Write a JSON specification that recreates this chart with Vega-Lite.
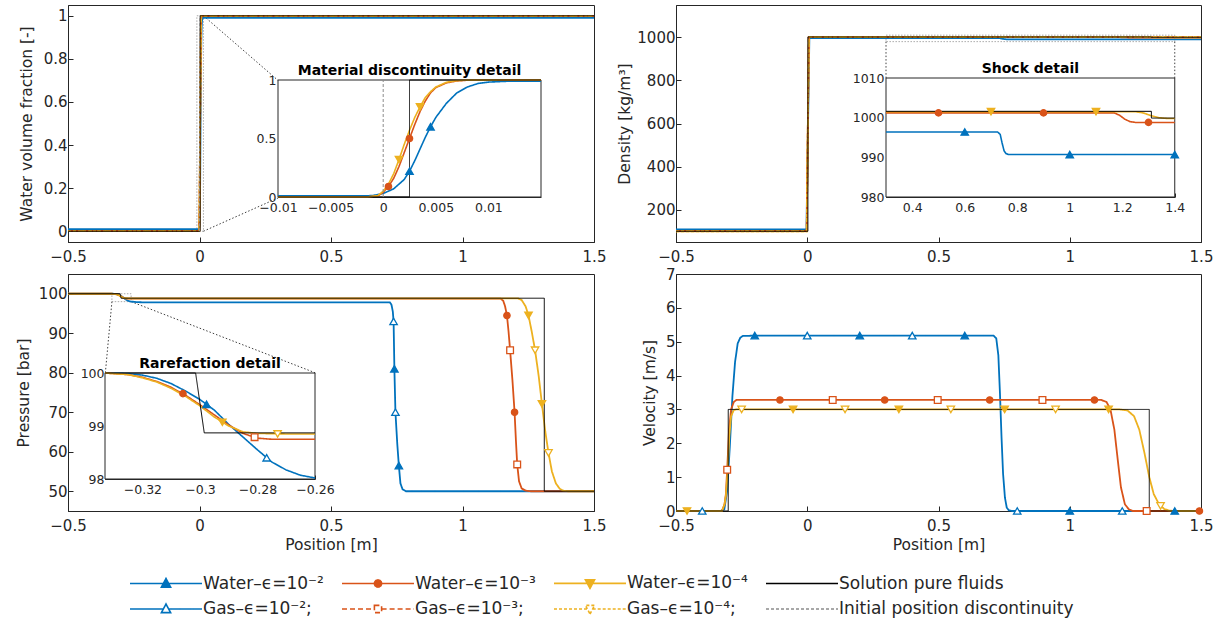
{
"$schema": "https://vega.github.io/schema/vega-lite/v6.json",
"padding": {"left": 15, "top": 4, "right": 5, "bottom": 0},
"autosize": {"type": "pad"},
"config": {
  "font": "DejaVu Sans",
  "view": {"stroke": "#262626", "strokeWidth": 1},
  "axis": {"grid": false, "labelFlush": false, "labelOverlap": false, "domainColor": "#262626", "tickColor": "#262626", "labelColor": "#262626", "titleColor": "#262626", "labelFontSize": 15, "titleFontSize": 15.5, "titleFontWeight": "normal", "tickSize": -5, "labelPadding": 6},
  "axisX": {"labelPadding": 12}
},
"datasets": {
  "p1": [
    {"s":"W2","x":-0.5,"y":0.01},{"s":"W2","x":-0.01,"y":0.01},{"s":"W2","x":-0.002,"y":0.01},{"s":"W2","x":-0.001,"y":0.012},{"s":"W2","x":0,"y":0.03},{"s":"W2","x":0.001,"y":0.07},{"s":"W2","x":0.002,"y":0.15},{"s":"W2","x":0.0025,"y":0.22},{"s":"W2","x":0.003,"y":0.31},{"s":"W2","x":0.0035,"y":0.41},{"s":"W2","x":0.004,"y":0.51},{"s":"W2","x":0.0045,"y":0.6},{"s":"W2","x":0.005,"y":0.68},{"s":"W2","x":0.006,"y":0.8},{"s":"W2","x":0.007,"y":0.89},{"s":"W2","x":0.008,"y":0.94},{"s":"W2","x":0.009,"y":0.97},{"s":"W2","x":0.01,"y":0.982},{"s":"W2","x":0.012,"y":0.99},{"s":"W2","x":0.015,"y":0.99},{"s":"W2","x":1.5,"y":0.99},
    {"s":"W3","x":-0.5,"y":0.001},{"s":"W3","x":-0.01,"y":0.001},{"s":"W3","x":-0.0015,"y":0.001},{"s":"W3","x":-0.0005,"y":0.01},{"s":"W3","x":0,"y":0.04},{"s":"W3","x":0.0005,"y":0.09},{"s":"W3","x":0.001,"y":0.16},{"s":"W3","x":0.0015,"y":0.26},{"s":"W3","x":0.002,"y":0.38},{"s":"W3","x":0.0025,"y":0.5},{"s":"W3","x":0.003,"y":0.62},{"s":"W3","x":0.0035,"y":0.73},{"s":"W3","x":0.004,"y":0.82},{"s":"W3","x":0.0045,"y":0.89},{"s":"W3","x":0.005,"y":0.935},{"s":"W3","x":0.006,"y":0.975},{"s":"W3","x":0.007,"y":0.992},{"s":"W3","x":0.008,"y":0.998},{"s":"W3","x":0.015,"y":0.999},{"s":"W3","x":1.5,"y":0.999},
    {"s":"W4","x":-0.5,"y":0.0001},{"s":"W4","x":-0.01,"y":0.0001},{"s":"W4","x":-0.0015,"y":0.0001},{"s":"W4","x":-0.0005,"y":0.012},{"s":"W4","x":0,"y":0.05},{"s":"W4","x":0.0005,"y":0.11},{"s":"W4","x":0.001,"y":0.2},{"s":"W4","x":0.0015,"y":0.32},{"s":"W4","x":0.002,"y":0.45},{"s":"W4","x":0.0025,"y":0.57},{"s":"W4","x":0.003,"y":0.68},{"s":"W4","x":0.0035,"y":0.77},{"s":"W4","x":0.004,"y":0.85},{"s":"W4","x":0.0045,"y":0.9},{"s":"W4","x":0.005,"y":0.94},{"s":"W4","x":0.006,"y":0.98},{"s":"W4","x":0.007,"y":0.995},{"s":"W4","x":0.008,"y":0.999},{"s":"W4","x":0.015,"y":0.9999},{"s":"W4","x":1.5,"y":0.9999},
    {"s":"G3","x":-0.5,"y":0.001},{"s":"G3","x":-0.001,"y":0.001},{"s":"G3","x":0.006,"y":0.999},{"s":"G3","x":1.5,"y":0.999},
    {"s":"G4","x":-0.5,"y":0.0001},{"s":"G4","x":-0.001,"y":0.0001},{"s":"G4","x":0.006,"y":0.9999},{"s":"G4","x":1.5,"y":0.9999},
    {"s":"Sol","x":-0.5,"y":0},{"s":"Sol","x":-0.01,"y":0},{"s":"Sol","x":0.0025,"y":0},{"s":"Sol","x":0.0025,"y":1},{"s":"Sol","x":0.015,"y":1},{"s":"Sol","x":1.5,"y":1},
    {"s":"Init","x":0,"y":0},{"s":"Init","x":0,"y":1}
  ],
  "p1m": [
    {"s":"W2","x":0.0025,"y":0.22},{"s":"W2","x":0.0045,"y":0.6},
    {"s":"W3","x":0.0005,"y":0.09},{"s":"W3","x":0.0025,"y":0.5},
    {"s":"W4","x":0.0015,"y":0.32},{"s":"W4","x":0.0035,"y":0.77}
  ],
  "p2": [
    {"s":"W2","x":-0.5,"y":108},{"s":"W2","x":-0.003,"y":108},{"s":"W2","x":0.008,"y":996.4},{"s":"W2","x":0.3,"y":996.4},{"s":"W2","x":0.725,"y":996.4},{"s":"W2","x":0.735,"y":995.8},{"s":"W2","x":0.742,"y":993.7},{"s":"W2","x":0.75,"y":991.6},{"s":"W2","x":0.758,"y":990.9},{"s":"W2","x":0.768,"y":990.7},{"s":"W2","x":1.4,"y":990.7},{"s":"W2","x":1.5,"y":990.7},
    {"s":"W3","x":-0.5,"y":101},{"s":"W3","x":-0.002,"y":101},{"s":"W3","x":0.006,"y":1001.2},{"s":"W3","x":0.3,"y":1001.2},{"s":"W3","x":1.17,"y":1001.2},{"s":"W3","x":1.19,"y":1000.6},{"s":"W3","x":1.21,"y":999.6},{"s":"W3","x":1.23,"y":999.0},{"s":"W3","x":1.25,"y":998.8},{"s":"W3","x":1.4,"y":998.8},{"s":"W3","x":1.5,"y":998.8},
    {"s":"W4","x":-0.5,"y":100},{"s":"W4","x":-0.002,"y":100},{"s":"W4","x":0.006,"y":1001.5},{"s":"W4","x":0.3,"y":1001.5},{"s":"W4","x":1.25,"y":1001.5},{"s":"W4","x":1.28,"y":1001.2},{"s":"W4","x":1.31,"y":1000.5},{"s":"W4","x":1.34,"y":1000.0},{"s":"W4","x":1.37,"y":999.8},{"s":"W4","x":1.4,"y":999.8},{"s":"W4","x":1.5,"y":999.8},
    {"s":"G3","x":-0.5,"y":101},{"s":"G3","x":-0.002,"y":101},{"s":"G3","x":0.006,"y":1001.2},{"s":"G3","x":1.5,"y":1001.2},
    {"s":"G4","x":-0.5,"y":100},{"s":"G4","x":-0.002,"y":100},{"s":"G4","x":0.006,"y":1001.5},{"s":"G4","x":1.5,"y":1001.5},
    {"s":"Sol","x":-0.5,"y":100},{"s":"Sol","x":0.0025,"y":100},{"s":"Sol","x":0.0025,"y":1001.6},{"s":"Sol","x":0.3,"y":1001.6},{"s":"Sol","x":1.311,"y":1001.6},{"s":"Sol","x":1.311,"y":999.9},{"s":"Sol","x":1.4,"y":999.9},{"s":"Sol","x":1.5,"y":999.9}
  ],
  "p2m": [
    {"s":"W2","x":0.6,"y":996.4},{"s":"W2","x":1.0,"y":990.7},{"s":"W2","x":1.4,"y":990.7},
    {"s":"W3","x":0.5,"y":1001.2},{"s":"W3","x":0.9,"y":1001.2},{"s":"W3","x":1.3,"y":998.8},
    {"s":"W4","x":0.7,"y":1001.5},{"s":"W4","x":1.1,"y":1001.5}
  ],
  "p3": [
    {"s":"W2","x":-0.5,"y":100},{"s":"W2","x":-0.333,"y":100},{"s":"W2","x":-0.325,"y":99.99},{"s":"W2","x":-0.32,"y":99.96},{"s":"W2","x":-0.315,"y":99.9},{"s":"W2","x":-0.31,"y":99.8},{"s":"W2","x":-0.305,"y":99.66},{"s":"W2","x":-0.3,"y":99.5},{"s":"W2","x":-0.295,"y":99.3},{"s":"W2","x":-0.29,"y":99.03},{"s":"W2","x":-0.285,"y":98.79},{"s":"W2","x":-0.28,"y":98.55},{"s":"W2","x":-0.275,"y":98.32},{"s":"W2","x":-0.27,"y":98.17},{"s":"W2","x":-0.265,"y":98.07},{"s":"W2","x":-0.26,"y":98.02},{"s":"W2","x":-0.24,"y":97.88},{"s":"W2","x":-0.2,"y":97.8},{"s":"W2","x":0.724,"y":97.8},{"s":"W2","x":0.73,"y":97.2},{"s":"W2","x":0.735,"y":95.5},{"s":"W2","x":0.738,"y":93},{"s":"W2","x":0.741,"y":81},{"s":"W2","x":0.745,"y":70},{"s":"W2","x":0.752,"y":62},{"s":"W2","x":0.758,"y":56.5},{"s":"W2","x":0.764,"y":52},{"s":"W2","x":0.772,"y":50.5},{"s":"W2","x":0.785,"y":50},{"s":"W2","x":1.5,"y":50},
    {"s":"W3","x":-0.5,"y":100},{"s":"W3","x":-0.333,"y":100},{"s":"W3","x":-0.325,"y":99.97},{"s":"W3","x":-0.32,"y":99.92},{"s":"W3","x":-0.315,"y":99.84},{"s":"W3","x":-0.31,"y":99.73},{"s":"W3","x":-0.305,"y":99.58},{"s":"W3","x":-0.3,"y":99.4},{"s":"W3","x":-0.295,"y":99.21},{"s":"W3","x":-0.29,"y":99.02},{"s":"W3","x":-0.285,"y":98.86},{"s":"W3","x":-0.28,"y":98.77},{"s":"W3","x":-0.275,"y":98.75},{"s":"W3","x":-0.26,"y":98.75},{"s":"W3","x":1.145,"y":98.75},{"s":"W3","x":1.155,"y":98.2},{"s":"W3","x":1.162,"y":96.8},{"s":"W3","x":1.169,"y":94.5},{"s":"W3","x":1.175,"y":90.5},{"s":"W3","x":1.181,"y":85.7},{"s":"W3","x":1.19,"y":78},{"s":"W3","x":1.198,"y":70},{"s":"W3","x":1.203,"y":63},{"s":"W3","x":1.208,"y":56.8},{"s":"W3","x":1.215,"y":52.5},{"s":"W3","x":1.225,"y":50.7},{"s":"W3","x":1.24,"y":50.15},{"s":"W3","x":1.26,"y":50},{"s":"W3","x":1.5,"y":50},
    {"s":"W4","x":-0.5,"y":100},{"s":"W4","x":-0.333,"y":100},{"s":"W4","x":-0.325,"y":99.97},{"s":"W4","x":-0.32,"y":99.91},{"s":"W4","x":-0.315,"y":99.83},{"s":"W4","x":-0.31,"y":99.71},{"s":"W4","x":-0.305,"y":99.56},{"s":"W4","x":-0.3,"y":99.38},{"s":"W4","x":-0.295,"y":99.17},{"s":"W4","x":-0.29,"y":99.0},{"s":"W4","x":-0.285,"y":98.89},{"s":"W4","x":-0.28,"y":98.86},{"s":"W4","x":-0.27,"y":98.85},{"s":"W4","x":-0.26,"y":98.85},{"s":"W4","x":1.21,"y":98.85},{"s":"W4","x":1.225,"y":98.4},{"s":"W4","x":1.24,"y":96.8},{"s":"W4","x":1.251,"y":94.5},{"s":"W4","x":1.263,"y":90.5},{"s":"W4","x":1.276,"y":85.7},{"s":"W4","x":1.29,"y":79},{"s":"W4","x":1.302,"y":72.1},{"s":"W4","x":1.315,"y":65},{"s":"W4","x":1.327,"y":59.7},{"s":"W4","x":1.34,"y":55},{"s":"W4","x":1.355,"y":52},{"s":"W4","x":1.37,"y":50.6},{"s":"W4","x":1.385,"y":50.1},{"s":"W4","x":1.4,"y":50},{"s":"W4","x":1.5,"y":50},
    {"s":"Sol","x":-0.5,"y":100},{"s":"Sol","x":-0.333,"y":100},{"s":"Sol","x":-0.3015,"y":100},{"s":"Sol","x":-0.2985,"y":98.87},{"s":"Sol","x":-0.26,"y":98.87},{"s":"Sol","x":1.311,"y":98.87},{"s":"Sol","x":1.311,"y":50},{"s":"Sol","x":1.5,"y":50}
  ],
  "p3m": [
    {"w":"main","s":"W2","x":0.741,"y":81},{"w":"main","s":"W2","x":0.758,"y":56.5},
    {"w":"main","s":"G2","x":0.738,"y":93},{"w":"main","s":"G2","x":0.745,"y":70},
    {"w":"main","s":"W3","x":1.169,"y":94.5},{"w":"main","s":"W3","x":1.198,"y":70},
    {"w":"main","s":"G3","x":1.181,"y":85.7},{"w":"main","s":"G3","x":1.208,"y":56.8},
    {"w":"main","s":"W4","x":1.251,"y":94.5},{"w":"main","s":"W4","x":1.302,"y":72.1},
    {"w":"main","s":"G4","x":1.276,"y":85.7},{"w":"main","s":"G4","x":1.327,"y":59.7},
    {"w":"inset","s":"W2","x":-0.2977,"y":99.41},{"w":"inset","s":"G2","x":-0.2768,"y":98.4},
    {"w":"inset","s":"W3","x":-0.3059,"y":99.61},{"w":"inset","s":"G3","x":-0.281,"y":98.79},
    {"w":"inset","s":"W4","x":-0.2922,"y":99.07},{"w":"inset","s":"G4","x":-0.273,"y":98.85}
  ],
  "p4": [
    {"s":"W2","x":-0.5,"y":0},{"s":"W2","x":-0.33,"y":0},{"s":"W2","x":-0.316,"y":0.05},{"s":"W2","x":-0.305,"y":0.6},{"s":"W2","x":-0.295,"y":1.9},{"s":"W2","x":-0.285,"y":3.4},{"s":"W2","x":-0.275,"y":4.4},{"s":"W2","x":-0.265,"y":4.95},{"s":"W2","x":-0.255,"y":5.12},{"s":"W2","x":-0.245,"y":5.17},{"s":"W2","x":-0.2,"y":5.18},{"s":"W2","x":0.71,"y":5.18},{"s":"W2","x":0.72,"y":5.1},{"s":"W2","x":0.728,"y":4.6},{"s":"W2","x":0.734,"y":3.5},{"s":"W2","x":0.74,"y":2.2},{"s":"W2","x":0.746,"y":1.1},{"s":"W2","x":0.753,"y":0.4},{"s":"W2","x":0.76,"y":0.1},{"s":"W2","x":0.768,"y":0.02},{"s":"W2","x":0.78,"y":0},{"s":"W2","x":1.5,"y":0},
    {"s":"W3","x":-0.5,"y":0},{"s":"W3","x":-0.325,"y":0},{"s":"W3","x":-0.315,"y":0.2},{"s":"W3","x":-0.31,"y":0.5},{"s":"W3","x":-0.305,"y":1.22},{"s":"W3","x":-0.298,"y":2.4},{"s":"W3","x":-0.29,"y":3.0},{"s":"W3","x":-0.28,"y":3.22},{"s":"W3","x":-0.27,"y":3.28},{"s":"W3","x":1.12,"y":3.28},{"s":"W3","x":1.14,"y":3.22},{"s":"W3","x":1.155,"y":3.0},{"s":"W3","x":1.17,"y":2.4},{"s":"W3","x":1.183,"y":1.5},{"s":"W3","x":1.195,"y":0.7},{"s":"W3","x":1.21,"y":0.2},{"s":"W3","x":1.225,"y":0.05},{"s":"W3","x":1.24,"y":0},{"s":"W3","x":1.5,"y":0},
    {"s":"W4","x":-0.5,"y":0},{"s":"W4","x":-0.325,"y":0},{"s":"W4","x":-0.315,"y":0.2},{"s":"W4","x":-0.31,"y":0.45},{"s":"W4","x":-0.303,"y":1.2},{"s":"W4","x":-0.297,"y":2.2},{"s":"W4","x":-0.29,"y":2.8},{"s":"W4","x":-0.28,"y":2.98},{"s":"W4","x":-0.27,"y":3.0},{"s":"W4","x":1.19,"y":3.0},{"s":"W4","x":1.22,"y":2.97},{"s":"W4","x":1.245,"y":2.8},{"s":"W4","x":1.265,"y":2.4},{"s":"W4","x":1.285,"y":1.7},{"s":"W4","x":1.303,"y":1.0},{"s":"W4","x":1.32,"y":0.5},{"s":"W4","x":1.34,"y":0.2},{"s":"W4","x":1.36,"y":0.06},{"s":"W4","x":1.38,"y":0.01},{"s":"W4","x":1.4,"y":0},{"s":"W4","x":1.5,"y":0},
    {"s":"Sol","x":-0.5,"y":0},{"s":"Sol","x":-0.301,"y":0},{"s":"Sol","x":-0.301,"y":3.0},{"s":"Sol","x":1.303,"y":3.0},{"s":"Sol","x":1.303,"y":0},{"s":"Sol","x":1.5,"y":0}
  ],
  "p4m": [
    {"s":"W2","x":-0.2,"y":5.18},{"s":"W2","x":0.2,"y":5.18},{"s":"W2","x":0.6,"y":5.18},{"s":"W2","x":1.0,"y":0},{"s":"W2","x":1.4,"y":0},
    {"s":"G2","x":-0.4,"y":0},{"s":"G2","x":0,"y":5.18},{"s":"G2","x":0.4,"y":5.18},{"s":"G2","x":0.8,"y":0},{"s":"G2","x":1.2,"y":0},
    {"s":"W3","x":-0.104,"y":3.28},{"s":"W3","x":0.295,"y":3.28},{"s":"W3","x":0.695,"y":3.28},{"s":"W3","x":1.094,"y":3.28},{"s":"W3","x":1.494,"y":0},
    {"s":"G3","x":-0.305,"y":1.22},{"s":"G3","x":0.097,"y":3.28},{"s":"G3","x":0.497,"y":3.28},{"s":"G3","x":0.896,"y":3.28},{"s":"G3","x":1.293,"y":0},
    {"s":"W4","x":-0.458,"y":0},{"s":"W4","x":-0.054,"y":3.0},{"s":"W4","x":0.349,"y":3.0},{"s":"W4","x":0.752,"y":3.0},{"s":"W4","x":1.148,"y":3.0},
    {"s":"G4","x":-0.25,"y":3.0},{"s":"G4","x":0.144,"y":3.0},{"s":"G4","x":0.547,"y":3.0},{"s":"G4","x":0.946,"y":3.0},{"s":"G4","x":1.346,"y":0.15}
  ]
},
"columns": 2,
"spacing": {"row": 32, "column": 82},
"bounds": "flush",
"concat": [
  {
    "width": 526, "height": 237,
    "resolve": {"scale": {"x": "independent", "y": "independent"}, "axis": {"x": "independent", "y": "independent"}},
    "layer": [
      {
        "encoding": {
          "x": {"field": "x", "type": "quantitative", "scale": {"domain": [-0.5, 1.5], "nice": false, "zero": false}, "axis": {"values": [-0.5, 0, 0.5, 1, 1.5], "title": null, "format": "~r"}},
          "y": {"field": "y", "type": "quantitative", "scale": {"domain": [-0.05, 1.05], "nice": false, "zero": false}, "axis": {"values": [0, 0.2, 0.4, 0.6, 0.8, 1], "title": "Water volume fraction [-]", "titlePadding": 9, "format": "~r"}}
        },
        "layer": [
          {"data": {"values": [{"x": -0.01, "x2": 0.015, "y": 0, "y2": 1}]}, "mark": {"type": "rect", "fill": "transparent", "stroke": "#aaaaaa", "strokeDash": [1.5, 1.5], "strokeWidth": 1}, "encoding": {"x2": {"field": "x2"}, "y2": {"field": "y2"}}},
          {"data": {"values": [{"x": 0.015, "y": 1, "x2": 0.2996, "y2": 0.699}, {"x": 0.015, "y": 0, "x2": 0.2996, "y2": 0.155}]}, "mark": {"type": "rule", "stroke": "#404040", "strokeDash": [1.5, 2], "strokeWidth": 1}, "encoding": {"x2": {"field": "x2"}, "y2": {"field": "y2"}}},
          {"data": {"name": "p1"}, "transform": [{"filter": "datum.s != 'Sol' && datum.s != 'Init'"}], "mark": {"type": "line", "strokeWidth": 1.8}, "encoding": {"stroke": {"field": "s", "type": "nominal"}, "strokeDash": {"field": "s", "type": "nominal"}}},
          {"data": {"name": "p1"}, "transform": [{"filter": "datum.s == 'Sol' || datum.s == 'Init'"}], "mark": {"type": "line", "strokeWidth": 1}, "encoding": {"stroke": {"field": "s", "type": "nominal"}, "strokeDash": {"field": "s", "type": "nominal"}}}
        ]
      },
      {
        "encoding": {
          "x": {"field": "x", "type": "quantitative", "scale": {"domain": [-0.01, 0.015], "range": [210, 473], "nice": false, "zero": false}, "axis": {"orient": "bottom", "offset": -45, "values": [-0.01, -0.005, 0, 0.005, 0.01], "labelFontSize": 12.5, "tickSize": -4, "labelPadding": 8, "title": null, "format": "~r"}},
          "y": {"field": "y", "type": "quantitative", "scale": {"domain": [0, 1], "range": [192, 75], "nice": false, "zero": false}, "axis": {"orient": "left", "offset": -210, "values": [0, 0.5, 1], "labelFontSize": 12.5, "tickSize": -4, "labelPadding": 6, "title": null, "format": "~r"}}
        },
        "layer": [
          {"data": {"values": [{"x": -0.01, "x2": 0.015, "y": 0, "y2": 1}]}, "mark": {"type": "rect", "fill": "white", "stroke": "#262626", "strokeWidth": 1}, "encoding": {"x2": {"field": "x2"}, "y2": {"field": "y2"}}},
          {"data": {"values": [{"x": 0.0025, "y": 1, "t": "Material discontinuity detail"}]}, "mark": {"type": "text", "fontWeight": "bold", "fontSize": 14, "baseline": "bottom", "dy": -2, "color": "#000000"}, "encoding": {"text": {"field": "t"}}},
          {"data": {"name": "p1"}, "transform": [{"filter": "datum.x >= -0.01 && datum.x <= 0.015 && (datum.s == 'W2' || datum.s == 'W3' || datum.s == 'W4')"}], "mark": {"type": "line", "strokeWidth": 1.6}, "encoding": {"stroke": {"field": "s", "type": "nominal"}, "strokeDash": {"field": "s", "type": "nominal"}}},
          {"data": {"name": "p1"}, "transform": [{"filter": "datum.x >= -0.01 && datum.x <= 0.015 && (datum.s == 'Sol' || datum.s == 'Init')"}], "mark": {"type": "line", "strokeWidth": 1}, "encoding": {"stroke": {"field": "s", "type": "nominal"}, "strokeDash": {"field": "s", "type": "nominal"}}},
          {"data": {"name": "p1m"}, "transform": [{"filter": "datum.s == 'W2'"}], "mark": {"type": "point", "shape": "triangle-up", "size": 55, "strokeWidth": 1.3, "opacity": 1}, "encoding": {"stroke": {"field": "s", "type": "nominal"}, "fill": {"field": "s", "type": "nominal"}}},
          {"data": {"name": "p1m"}, "transform": [{"filter": "datum.s == 'W3'"}], "mark": {"type": "point", "shape": "circle", "size": 40, "strokeWidth": 1.3, "opacity": 1}, "encoding": {"stroke": {"field": "s", "type": "nominal"}, "fill": {"field": "s", "type": "nominal"}}},
          {"data": {"name": "p1m"}, "transform": [{"filter": "datum.s == 'W4'"}], "mark": {"type": "point", "shape": "triangle-down", "size": 55, "strokeWidth": 1.3, "opacity": 1}, "encoding": {"stroke": {"field": "s", "type": "nominal"}, "fill": {"field": "s", "type": "nominal"}}}
        ]
      }
    ]
  },
  {
    "width": 525, "height": 237,
    "resolve": {"scale": {"x": "independent", "y": "independent"}, "axis": {"x": "independent", "y": "independent"}},
    "layer": [
      {
        "encoding": {
          "x": {"field": "x", "type": "quantitative", "scale": {"domain": [-0.5, 1.5], "nice": false, "zero": false}, "axis": {"values": [-0.5, 0, 0.5, 1, 1.5], "title": null, "format": "~r"}},
          "y": {"field": "y", "type": "quantitative", "scale": {"domain": [50, 1150], "nice": false, "zero": false}, "axis": {"values": [200, 400, 600, 800, 1000], "title": "Density [kg/m³]", "titlePadding": 4, "format": "~r"}}
        },
        "layer": [
          {"data": {"values": [{"x": 0.3, "x2": 1.4, "y": 980, "y2": 1010}]}, "mark": {"type": "rect", "fill": "transparent", "stroke": "#aaaaaa", "strokeDash": [1.5, 1.5], "strokeWidth": 1}, "encoding": {"x2": {"field": "x2"}, "y2": {"field": "y2"}}},
          {"data": {"values": [{"x": 0.3, "y": 980, "x2": 0.3, "y2": 811}, {"x": 1.4, "y": 980, "x2": 1.4, "y2": 811}]}, "mark": {"type": "rule", "stroke": "#404040", "strokeDash": [1.5, 2], "strokeWidth": 1}, "encoding": {"x2": {"field": "x2"}, "y2": {"field": "y2"}}},
          {"data": {"name": "p2"}, "transform": [{"filter": "datum.s != 'Sol' && datum.s != 'Init'"}], "mark": {"type": "line", "strokeWidth": 1.8}, "encoding": {"stroke": {"field": "s", "type": "nominal"}, "strokeDash": {"field": "s", "type": "nominal"}}},
          {"data": {"name": "p2"}, "transform": [{"filter": "datum.s == 'Sol'"}], "mark": {"type": "line", "strokeWidth": 1}, "encoding": {"stroke": {"field": "s", "type": "nominal"}, "strokeDash": {"field": "s", "type": "nominal"}}}
        ]
      },
      {
        "encoding": {
          "x": {"field": "x", "type": "quantitative", "scale": {"domain": [0.3, 1.4], "range": [210, 498.75], "nice": false, "zero": false}, "axis": {"orient": "bottom", "offset": -45, "values": [0.4, 0.6, 0.8, 1, 1.2, 1.4], "labelFontSize": 12.5, "tickSize": -4, "labelPadding": 8, "title": null, "format": "~r"}},
          "y": {"field": "y", "type": "quantitative", "scale": {"domain": [980, 1010], "range": [192, 73], "nice": false, "zero": false}, "axis": {"orient": "left", "offset": -210, "values": [980, 990, 1000, 1010], "labelFontSize": 12.5, "tickSize": -4, "labelPadding": 6, "title": null, "format": "~r"}}
        },
        "layer": [
          {"data": {"values": [{"x": 0.3, "x2": 1.4, "y": 980, "y2": 1010}]}, "mark": {"type": "rect", "fill": "white", "stroke": "#262626", "strokeWidth": 1}, "encoding": {"x2": {"field": "x2"}, "y2": {"field": "y2"}}},
          {"data": {"values": [{"x": 0.85, "y": 1010, "t": "Shock detail"}]}, "mark": {"type": "text", "fontWeight": "bold", "fontSize": 14, "baseline": "bottom", "dy": -2, "color": "#000000"}, "encoding": {"text": {"field": "t"}}},
          {"data": {"name": "p2"}, "transform": [{"filter": "datum.x >= 0.3 && datum.x <= 1.4 && (datum.s == 'W2' || datum.s == 'W3' || datum.s == 'W4')"}], "mark": {"type": "line", "strokeWidth": 1.6}, "encoding": {"stroke": {"field": "s", "type": "nominal"}, "strokeDash": {"field": "s", "type": "nominal"}}},
          {"data": {"name": "p2"}, "transform": [{"filter": "datum.x >= 0.3 && datum.x <= 1.4 && datum.s == 'Sol'"}], "mark": {"type": "line", "strokeWidth": 1}, "encoding": {"stroke": {"field": "s", "type": "nominal"}, "strokeDash": {"field": "s", "type": "nominal"}}},
          {"data": {"name": "p2m"}, "transform": [{"filter": "datum.s == 'W2'"}], "mark": {"type": "point", "shape": "triangle-up", "size": 55, "strokeWidth": 1.3, "opacity": 1}, "encoding": {"stroke": {"field": "s", "type": "nominal"}, "fill": {"field": "s", "type": "nominal"}}},
          {"data": {"name": "p2m"}, "transform": [{"filter": "datum.s == 'W3'"}], "mark": {"type": "point", "shape": "circle", "size": 40, "strokeWidth": 1.3, "opacity": 1}, "encoding": {"stroke": {"field": "s", "type": "nominal"}, "fill": {"field": "s", "type": "nominal"}}},
          {"data": {"name": "p2m"}, "transform": [{"filter": "datum.s == 'W4'"}], "mark": {"type": "point", "shape": "triangle-down", "size": 55, "strokeWidth": 1.3, "opacity": 1}, "encoding": {"stroke": {"field": "s", "type": "nominal"}, "fill": {"field": "s", "type": "nominal"}}}
        ]
      }
    ]
  },
  {
    "width": 526, "height": 237,
    "resolve": {"scale": {"x": "independent", "y": "independent"}, "axis": {"x": "independent", "y": "independent"}},
    "layer": [
      {
        "encoding": {
          "x": {"field": "x", "type": "quantitative", "scale": {"domain": [-0.5, 1.5], "nice": false, "zero": false}, "axis": {"values": [-0.5, 0, 0.5, 1, 1.5], "title": "Position [m]", "titlePadding": 4, "format": "~r"}},
          "y": {"field": "y", "type": "quantitative", "scale": {"domain": [45, 105], "nice": false, "zero": false}, "axis": {"values": [50, 60, 70, 80, 90, 100], "title": "Pressure [bar]", "titlePadding": 7, "format": "~r"}}
        },
        "layer": [
          {"data": {"values": [{"x": -0.333, "x2": -0.26, "y": 98, "y2": 100}]}, "mark": {"type": "rect", "fill": "transparent", "stroke": "#aaaaaa", "strokeDash": [1.5, 1.5], "strokeWidth": 1}, "encoding": {"x2": {"field": "x2"}, "y2": {"field": "y2"}}},
          {"data": {"values": [{"x": -0.333, "y": 98, "x2": -0.358, "y2": 79.94}, {"x": -0.26, "y": 98, "x2": 0.442, "y2": 79.94}]}, "mark": {"type": "rule", "stroke": "#404040", "strokeDash": [1.5, 2], "strokeWidth": 1}, "encoding": {"x2": {"field": "x2"}, "y2": {"field": "y2"}}},
          {"data": {"name": "p3"}, "transform": [{"filter": "datum.s != 'Sol'"}], "mark": {"type": "line", "strokeWidth": 1.8}, "encoding": {"stroke": {"field": "s", "type": "nominal"}, "strokeDash": {"field": "s", "type": "nominal"}}},
          {"data": {"name": "p3"}, "transform": [{"filter": "datum.s == 'Sol'"}], "mark": {"type": "line", "strokeWidth": 1}, "encoding": {"stroke": {"field": "s", "type": "nominal"}, "strokeDash": {"field": "s", "type": "nominal"}}},
          {"data": {"name": "p3m"}, "transform": [{"filter": "datum.w == 'main' && (datum.s == 'W2' || datum.s == 'G2')"}], "mark": {"type": "point", "shape": "triangle-up", "size": 55, "strokeWidth": 1.3, "opacity": 1}, "encoding": {"stroke": {"field": "s", "type": "nominal"}, "fill": {"field": "s", "type": "nominal"}}},
          {"data": {"name": "p3m"}, "transform": [{"filter": "datum.w == 'main' && datum.s == 'W3'"}], "mark": {"type": "point", "shape": "circle", "size": 40, "strokeWidth": 1.3, "opacity": 1}, "encoding": {"stroke": {"field": "s", "type": "nominal"}, "fill": {"field": "s", "type": "nominal"}}},
          {"data": {"name": "p3m"}, "transform": [{"filter": "datum.w == 'main' && datum.s == 'G3'"}], "mark": {"type": "point", "shape": "square", "size": 45, "strokeWidth": 1.3, "opacity": 1}, "encoding": {"stroke": {"field": "s", "type": "nominal"}, "fill": {"field": "s", "type": "nominal"}}},
          {"data": {"name": "p3m"}, "transform": [{"filter": "datum.w == 'main' && (datum.s == 'W4' || datum.s == 'G4')"}], "mark": {"type": "point", "shape": "triangle-down", "size": 55, "strokeWidth": 1.3, "opacity": 1}, "encoding": {"stroke": {"field": "s", "type": "nominal"}, "fill": {"field": "s", "type": "nominal"}}}
        ]
      },
      {
        "encoding": {
          "x": {"field": "x", "type": "quantitative", "scale": {"domain": [-0.333, -0.26], "range": [37, 247], "nice": false, "zero": false}, "axis": {"orient": "bottom", "offset": -32, "values": [-0.32, -0.3, -0.28, -0.26], "labelFontSize": 12.5, "tickSize": -4, "labelPadding": 8, "title": null, "format": "~r"}},
          "y": {"field": "y", "type": "quantitative", "scale": {"domain": [98, 100], "range": [205, 99], "nice": false, "zero": false}, "axis": {"orient": "left", "offset": -37, "values": [98, 99, 100], "labelFontSize": 12.5, "tickSize": -4, "labelPadding": 5, "title": null, "format": "~r"}}
        },
        "layer": [
          {"data": {"values": [{"x": -0.333, "x2": -0.26, "y": 98, "y2": 100}]}, "mark": {"type": "rect", "fill": "white", "stroke": "#262626", "strokeWidth": 1}, "encoding": {"x2": {"field": "x2"}, "y2": {"field": "y2"}}},
          {"data": {"values": [{"x": -0.2965, "y": 100, "t": "Rarefaction detail"}]}, "mark": {"type": "text", "fontWeight": "bold", "fontSize": 14, "baseline": "bottom", "dy": -2, "color": "#000000"}, "encoding": {"text": {"field": "t"}}},
          {"data": {"name": "p3"}, "transform": [{"filter": "datum.x >= -0.333 && datum.x <= -0.26 && datum.s != 'Sol'"}], "mark": {"type": "line", "strokeWidth": 1.6}, "encoding": {"stroke": {"field": "s", "type": "nominal"}, "strokeDash": {"field": "s", "type": "nominal"}}},
          {"data": {"name": "p3"}, "transform": [{"filter": "datum.x >= -0.333 && datum.x <= -0.26 && datum.s == 'Sol'"}], "mark": {"type": "line", "strokeWidth": 1}, "encoding": {"stroke": {"field": "s", "type": "nominal"}, "strokeDash": {"field": "s", "type": "nominal"}}},
          {"data": {"name": "p3m"}, "transform": [{"filter": "datum.w == 'inset' && (datum.s == 'W2' || datum.s == 'G2')"}], "mark": {"type": "point", "shape": "triangle-up", "size": 55, "strokeWidth": 1.3, "opacity": 1}, "encoding": {"stroke": {"field": "s", "type": "nominal"}, "fill": {"field": "s", "type": "nominal"}}},
          {"data": {"name": "p3m"}, "transform": [{"filter": "datum.w == 'inset' && datum.s == 'W3'"}], "mark": {"type": "point", "shape": "circle", "size": 40, "strokeWidth": 1.3, "opacity": 1}, "encoding": {"stroke": {"field": "s", "type": "nominal"}, "fill": {"field": "s", "type": "nominal"}}},
          {"data": {"name": "p3m"}, "transform": [{"filter": "datum.w == 'inset' && datum.s == 'G3'"}], "mark": {"type": "point", "shape": "square", "size": 45, "strokeWidth": 1.3, "opacity": 1}, "encoding": {"stroke": {"field": "s", "type": "nominal"}, "fill": {"field": "s", "type": "nominal"}}},
          {"data": {"name": "p3m"}, "transform": [{"filter": "datum.w == 'inset' && (datum.s == 'W4' || datum.s == 'G4')"}], "mark": {"type": "point", "shape": "triangle-down", "size": 55, "strokeWidth": 1.3, "opacity": 1}, "encoding": {"stroke": {"field": "s", "type": "nominal"}, "fill": {"field": "s", "type": "nominal"}}}
        ]
      }
    ]
  },
  {
    "width": 525, "height": 237,
    "encoding": {
      "x": {"field": "x", "type": "quantitative", "scale": {"domain": [-0.5, 1.5], "nice": false, "zero": false}, "axis": {"values": [-0.5, 0, 0.5, 1, 1.5], "title": "Position [m]", "titlePadding": 4, "format": "~r"}},
      "y": {"field": "y", "type": "quantitative", "scale": {"domain": [0, 7], "nice": false, "zero": false}, "axis": {"values": [0, 1, 2, 3, 4, 5, 6, 7], "title": "Velocity [m/s]", "titlePadding": 8, "format": "~r"}}
    },
    "layer": [
      {"data": {"name": "p4"}, "transform": [{"filter": "datum.s != 'Sol'"}], "mark": {"type": "line", "strokeWidth": 1.8}, "encoding": {"stroke": {"field": "s", "type": "nominal"}, "strokeDash": {"field": "s", "type": "nominal"}}},
      {"data": {"name": "p4"}, "transform": [{"filter": "datum.s == 'Sol'"}], "mark": {"type": "line", "strokeWidth": 1}, "encoding": {"stroke": {"field": "s", "type": "nominal"}, "strokeDash": {"field": "s", "type": "nominal"}}},
      {"data": {"name": "p4m"}, "transform": [{"filter": "datum.s == 'W2' || datum.s == 'G2'"}], "mark": {"type": "point", "shape": "triangle-up", "size": 55, "strokeWidth": 1.3, "opacity": 1}, "encoding": {"stroke": {"field": "s", "type": "nominal"}, "fill": {"field": "s", "type": "nominal"}}},
      {"data": {"name": "p4m"}, "transform": [{"filter": "datum.s == 'W3'"}], "mark": {"type": "point", "shape": "circle", "size": 40, "strokeWidth": 1.3, "opacity": 1}, "encoding": {"stroke": {"field": "s", "type": "nominal"}, "fill": {"field": "s", "type": "nominal"}}},
      {"data": {"name": "p4m"}, "transform": [{"filter": "datum.s == 'G3'"}], "mark": {"type": "point", "shape": "square", "size": 45, "strokeWidth": 1.3, "opacity": 1}, "encoding": {"stroke": {"field": "s", "type": "nominal"}, "fill": {"field": "s", "type": "nominal"}}},
      {"data": {"name": "p4m"}, "transform": [{"filter": "datum.s == 'W4' || datum.s == 'G4'"}], "mark": {"type": "point", "shape": "triangle-down", "size": 55, "strokeWidth": 1.3, "opacity": 1}, "encoding": {"stroke": {"field": "s", "type": "nominal"}, "fill": {"field": "s", "type": "nominal"}}},
      {
        "data": {"name": "p4m"}, "transform": [{"filter": "datum.x > 99"}],
        "mark": {"type": "point", "opacity": 1},
        "encoding": {
          "shape": {"field": "s", "type": "nominal", "scale": {"domain": ["W2","W3","W4","Sol","G2","G3","G4","Init"], "range": ["M-3.6,0L3.6,0M0,-0.5L0.46,0.36L-0.46,0.36Z", "M-3.6,0L3.6,0M0.36,0A0.36,0.36,0,1,1,-0.36,0A0.36,0.36,0,1,1,0.36,0Z", "M-3.6,0L3.6,0M0,0.5L0.46,-0.36L-0.46,-0.36Z", "M-3.6,0L3.6,0", "M-3.6,0L-0.27,0M0.27,0L3.6,0M0,-0.5L0.46,0.36L-0.46,0.36Z", "M-3.6,0L-0.36,0M0.36,0L3.6,0M-0.36,-0.36L0.36,-0.36L0.36,0.36L-0.36,0.36Z", "M-3.6,0L-0.27,0M0.27,0L3.6,0M0,0.5L0.46,-0.36L-0.46,-0.36Z", "M-3.6,0L3.6,0"]},
            "legend": {"orient": "none", "direction": "horizontal", "legendX": 87, "legendY": 567, "columns": 4, "title": null, "symbolSize": 400, "symbolStrokeWidth": 1.6, "labelFontSize": 17, "labelOffset": 26, "labelLimit": 400, "columnPadding": 14, "rowPadding": 6, "padding": 0, "labelColor": "#262626", "labelExpr": "{'W2':'Water–ϵ=10⁻²','W3':'Water–ϵ=10⁻³','W4':'Water–ϵ=10⁻⁴','Sol':'Solution pure fluids','G2':'Gas–ϵ=10⁻²;','G3':'Gas–ϵ=10⁻³;','G4':'Gas–ϵ=10⁻⁴;','Init':'Initial position discontinuity'}[datum.label]"}},
          "stroke": {"field": "s", "type": "nominal", "scale": {"domain": ["W2","W3","W4","Sol","G2","G3","G4","Init"], "range": ["#0072BD","#D95319","#EDB120","#000000","#0072BD","#D95319","#EDB120","#8c8c8c"]},
            "legend": {"orient": "none", "direction": "horizontal", "legendX": 87, "legendY": 567, "columns": 4, "title": null, "symbolSize": 400, "symbolStrokeWidth": 1.6, "labelFontSize": 17, "labelOffset": 26, "labelLimit": 400, "columnPadding": 14, "rowPadding": 6, "padding": 0, "labelColor": "#262626", "labelExpr": "{'W2':'Water–ϵ=10⁻²','W3':'Water–ϵ=10⁻³','W4':'Water–ϵ=10⁻⁴','Sol':'Solution pure fluids','G2':'Gas–ϵ=10⁻²;','G3':'Gas–ϵ=10⁻³;','G4':'Gas–ϵ=10⁻⁴;','Init':'Initial position discontinuity'}[datum.label]"}},
          "fill": {"field": "s", "type": "nominal", "scale": {"domain": ["W2","W3","W4","Sol","G2","G3","G4","Init"], "range": ["#0072BD","#D95319","#EDB120","transparent","#ffffff","#ffffff","#ffffff","transparent"]},
            "legend": {"orient": "none", "direction": "horizontal", "legendX": 87, "legendY": 567, "columns": 4, "title": null, "symbolSize": 400, "symbolStrokeWidth": 1.6, "labelFontSize": 17, "labelOffset": 26, "labelLimit": 400, "columnPadding": 14, "rowPadding": 6, "padding": 0, "labelColor": "#262626", "labelExpr": "{'W2':'Water–ϵ=10⁻²','W3':'Water–ϵ=10⁻³','W4':'Water–ϵ=10⁻⁴','Sol':'Solution pure fluids','G2':'Gas–ϵ=10⁻²;','G3':'Gas–ϵ=10⁻³;','G4':'Gas–ϵ=10⁻⁴;','Init':'Initial position discontinuity'}[datum.label]"}},
          "strokeDash": {"field": "s", "type": "nominal", "scale": {"domain": ["W2","W3","W4","Sol","G2","G3","G4","Init"], "range": [[1,0],[1,0],[1,0],[1,0],[1,0],[5,3],[3,2],[3,2]]},
            "legend": {"orient": "none", "direction": "horizontal", "legendX": 87, "legendY": 567, "columns": 4, "title": null, "symbolSize": 400, "symbolStrokeWidth": 1.6, "labelFontSize": 17, "labelOffset": 26, "labelLimit": 400, "columnPadding": 14, "rowPadding": 6, "padding": 0, "labelColor": "#262626", "labelExpr": "{'W2':'Water–ϵ=10⁻²','W3':'Water–ϵ=10⁻³','W4':'Water–ϵ=10⁻⁴','Sol':'Solution pure fluids','G2':'Gas–ϵ=10⁻²;','G3':'Gas–ϵ=10⁻³;','G4':'Gas–ϵ=10⁻⁴;','Init':'Initial position discontinuity'}[datum.label]"}}
        }
      }
    ]
  }
]
}
